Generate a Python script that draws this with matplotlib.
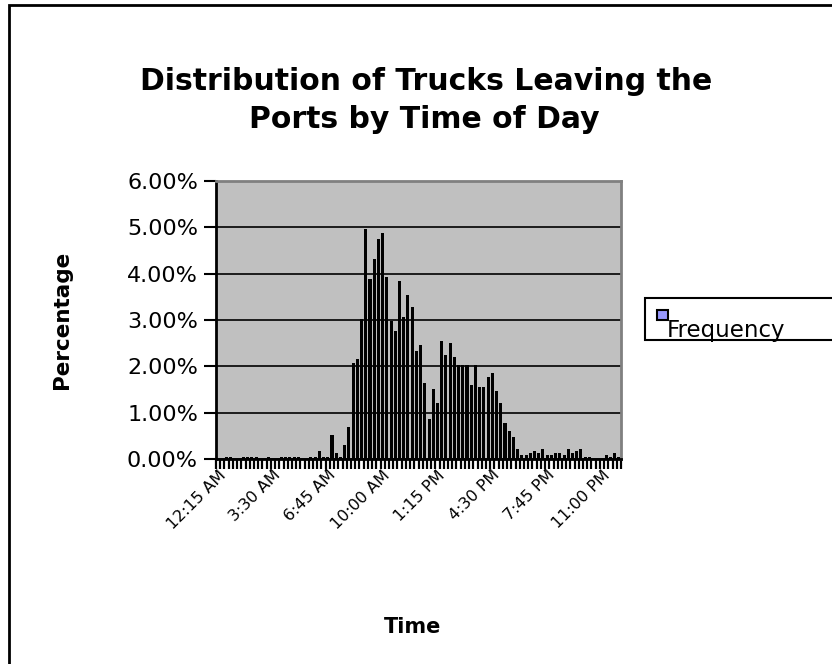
import matplotlib
matplotlib.use("Agg")
import matplotlib.pyplot as plt
import matplotlib.patches as mpatches
import numpy as np

# ---- data ----
time_labels = ["12:15 AM", "3:30 AM", "6:45 AM", "10:00 AM",
               "1:15 PM", "4:30 PM", "7:45 PM", "11:00 PM"]
label_every = 13  # one label every 13 quarter-hour bins

# percentage of trucks per 15-minute bin (12:15 AM ... 12:00 AM), 96 bins
frequency = [
    0.00, 0.00, 0.04, 0.04, 0.00, 0.00, 0.04, 0.04, 0.04, 0.04,
    0.00, 0.00, 0.04, 0.00, 0.00, 0.04, 0.04, 0.04, 0.04, 0.04,
    0.00, 0.00, 0.04, 0.04, 0.17, 0.04, 0.04, 0.51, 0.12, 0.04,
    0.30, 0.68, 2.07, 2.15, 3.02, 4.96, 3.88, 4.32, 4.75, 4.88,
    3.93, 2.98, 2.76, 3.84, 3.06, 3.54, 3.28, 2.33, 2.46, 1.64,
    0.86, 1.51, 1.20, 2.55, 2.25, 2.51, 2.20, 2.03, 2.03, 2.03,
    1.60, 2.03, 1.56, 1.56, 1.77, 1.86, 1.47, 1.21, 0.78, 0.60,
    0.48, 0.22, 0.09, 0.09, 0.12, 0.17, 0.12, 0.21, 0.08, 0.08,
    0.12, 0.12, 0.08, 0.21, 0.12, 0.17, 0.21, 0.04, 0.04, 0.00,
    0.00, 0.00, 0.08, 0.04, 0.12, 0.04,
]
y_ticks = [0, 1, 2, 3, 4, 5, 6]

W, H = 832, 664
fig = plt.figure(figsize=(W / 100, H / 100), dpi=100)
fig.patch.set_facecolor("white")

def fx(px):
    return px / W

def fy(py):
    return 1 - py / H

left, right, top, bottom = 216, 621, 181, 459
ax = fig.add_axes([fx(left), fy(bottom), fx(right) - fx(left), fy(top) - fy(bottom)])
ax.set_facecolor("#C0C0C0")

x = np.arange(len(frequency))
ax.bar(x, frequency, width=0.72, color="black", edgecolor="black", linewidth=0, zorder=3)

ax.set_xlim(-0.5, len(frequency) - 0.5)
ax.set_ylim(0, 6)

# gridlines
ax.set_yticks(y_ticks)
ax.set_yticklabels([f"{v:.2f}%" for v in y_ticks], fontsize=16)
ax.yaxis.grid(True, color="black", linewidth=1.2, zorder=1)
ax.set_axisbelow(True)
ax.tick_params(axis="y", direction="out", length=9, width=1.5, pad=4, color="black")

# x ticks at category boundaries, labels at every 13th category
ax.set_xticks(np.arange(-0.5, len(frequency), 1.0))
ax.set_xticklabels([])
ax.tick_params(axis="x", which="major", direction="out", length=7, width=1.6, color="black")
lab_pos = np.arange(0, len(frequency), label_every)[:len(time_labels)]
ax.set_xticks(lab_pos, minor=True)
ax.set_xticklabels(time_labels, minor=True, rotation=45, ha="right",
                   rotation_mode="anchor", fontsize=11.5)
ax.tick_params(axis="x", which="minor", length=0, pad=6)

for s in ["left", "bottom"]:
    ax.spines[s].set_color("black")
    ax.spines[s].set_linewidth(2)
for s in ["top", "right"]:
    ax.spines[s].set_color("#808080")
    ax.spines[s].set_linewidth(2)

# titles / labels
fig.text(fx(426), fy(82), "Distribution of Trucks Leaving the", ha="center", va="center",
         fontsize=21.5, fontweight="bold")
fig.text(fx(424), fy(120), "Ports by Time of Day", ha="center", va="center",
         fontsize=21.5, fontweight="bold")
fig.text(fx(62), fy(320), "Percentage", rotation=90, ha="center", va="center",
         fontsize=15.5, fontweight="bold")
fig.text(fx(413), fy(627), "Time", ha="center", va="center",
         fontsize=15, fontweight="bold")

# legend (box extends past right edge)
fig.patches.append(mpatches.Rectangle((fx(645), fy(340)), fx(300), fy(298) - fy(340),
                                      transform=fig.transFigure, facecolor="white",
                                      edgecolor="black", linewidth=1.5))
fig.patches.append(mpatches.Rectangle((fx(657), fy(320)), fx(11), fy(310) - fy(320),
                                      transform=fig.transFigure, facecolor="#9999FF",
                                      edgecolor="black", linewidth=1.5))
fig.text(fx(667), fy(330), "Frequency", ha="left", va="center", fontsize=16.5)

# outer chart frame
fig.patches.append(mpatches.Rectangle((fx(8.5), fy(700)), fx(900), fy(5) - fy(700),
                                      transform=fig.transFigure, facecolor="none",
                                      edgecolor="black", linewidth=2))

fig.savefig("out.png", dpi=100)
